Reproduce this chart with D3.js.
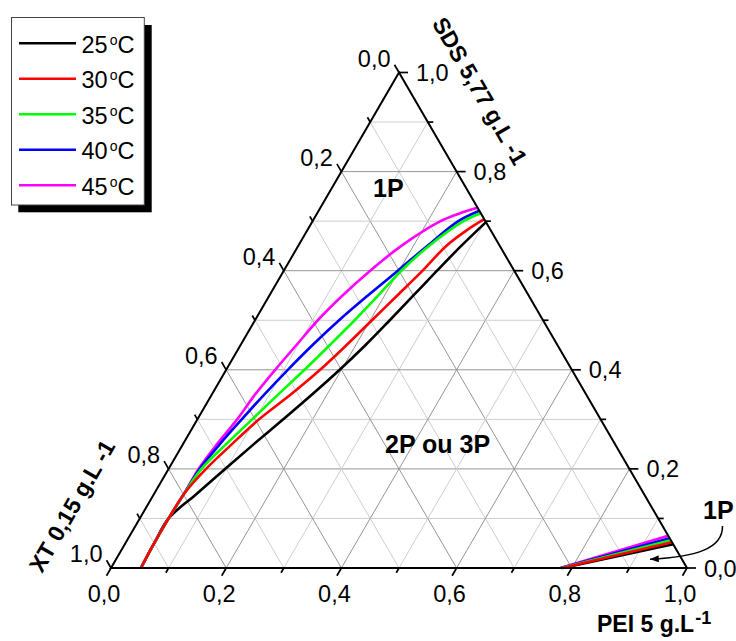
<!DOCTYPE html>
<html>
<head>
<meta charset="utf-8">
<script src="https://cdn.jsdelivr.net/npm/d3@7/dist/d3.min.js"></script>
<style>
html,body{margin:0;padding:0;background:#fff;}
svg{display:block;}
text{font-family:"Liberation Sans",Arial,Helvetica,sans-serif;fill:#000;}
</style>
</head>
<body>
<svg id="chart" width="736" height="641"></svg>
<script>
// ---------- DATA: ternary points given as [PEI, SDS]  (XT = 1 - PEI - SDS) ----------
const seriesNames  = ["25", "30", "35", "40", "45"];
const seriesColors = ["#000000", "#ff0000", "#00ff00", "#0000ff", "#ff00ff"];

// binodal curves (main branch)
const binodal25 = [[0.052,0],[0.050,0.05],[0.050,0.10],[0.074,0.15],[0.098,0.20],[0.123,0.25],[0.149,0.30],[0.174,0.35],[0.197,0.40],[0.217,0.45],[0.234,0.50],[0.250,0.55],[0.266,0.60],[0.283,0.65],[0.302,0.698]];
const binodal30 = [[0.052,0],[0.050,0.05],[0.050,0.10],[0.052,0.15],[0.065,0.20],[0.085,0.25],[0.107,0.30],[0.137,0.35],[0.163,0.40],[0.184,0.45],[0.203,0.50],[0.222,0.55],[0.241,0.60],[0.257,0.65],[0.277,0.682],[0.296,0.704]];
const binodal35 = [[0.052,0],[0.050,0.05],[0.050,0.10],[0.052,0.15],[0.057,0.20],[0.075,0.25],[0.095,0.30],[0.115,0.35],[0.136,0.40],[0.155,0.45],[0.173,0.50],[0.189,0.55],[0.204,0.60],[0.227,0.65],[0.262,0.70],[0.284,0.716]];
const binodal40 = [[0.052,0],[0.050,0.05],[0.050,0.10],[0.052,0.15],[0.054,0.20],[0.064,0.25],[0.077,0.30],[0.091,0.35],[0.107,0.40],[0.125,0.45],[0.146,0.50],[0.171,0.55],[0.198,0.60],[0.224,0.65],[0.253,0.70],[0.279,0.721]];
const binodal45 = [[0.052,0],[0.050,0.05],[0.050,0.10],[0.052,0.15],[0.052,0.20],[0.059,0.25],[0.069,0.30],[0.075,0.35],[0.085,0.40],[0.097,0.45],[0.109,0.50],[0.127,0.55],[0.150,0.60],[0.179,0.65],[0.222,0.70],[0.248,0.716],[0.273,0.727]];

// PEI-rich corner branch
const corner25 = [[0.784,0],[0.952,0.048]];
const corner30 = [[0.783,0],[0.948,0.052]];
const corner35 = [[0.782,0],[0.944,0.056]];
const corner40 = [[0.781,0],[0.940,0.060]];
const corner45 = [[0.780,0],[0.935,0.065]];

// axes
const majorTicks = [0, 0.2, 0.4, 0.6, 0.8, 1.0];
const minorTicks = [0.1, 0.3, 0.5, 0.7, 0.9];
const tickLabels = ["0,0", "0,2", "0,4", "0,6", "0,8", "1,0"];
const gridValues = [0.1, 0.2, 0.3, 0.4, 0.5, 0.6, 0.7, 0.8, 0.9];

// ---------- GEOMETRY ----------
const svg = d3.select("#chart");
const xs = d3.scaleLinear().domain([0, 1]).range([111, 687]);   // horizontal
const ys = d3.scaleLinear().domain([0, 1]).range([568, 72.5]);  // SDS fraction
const P = (pei, sds) => [xs(pei + sds / 2), ys(sds)];

const binodals = [binodal25, binodal30, binodal35, binodal40, binodal45];
const corners  = [corner25, corner30, corner35, corner40, corner45];

// ---------- GRID ----------
const grid = svg.append("g");
gridValues.forEach((v, i) => {
  const col = (i % 2 === 1) ? "#959595" : "#cdcdcd";
  const segs = [
    [P(0, v), P(1 - v, v)],          // constant SDS
    [P(v, 0), P(v, 1 - v)],          // constant PEI
    [P(1 - v, 0), P(0, 1 - v)]       // constant XT
  ];
  segs.forEach(s => grid.append("line")
    .attr("x1", s[0][0]).attr("y1", s[0][1]).attr("x2", s[1][0]).attr("y2", s[1][1])
    .attr("stroke", col).attr("stroke-width", 1));
});

// ---------- CURVES ----------
const line = d3.line()
  .x(d => P(d[0], d[1])[0])
  .y(d => P(d[0], d[1])[1])
  .curve(d3.curveCatmullRom.alpha(0.5));
const drawOrder = [0, 4, 3, 2, 1];
const curveG = svg.append("g");
drawOrder.forEach(i => {
  curveG.append("path").attr("d", line(corners[i])).attr("fill", "none")
    .attr("stroke", seriesColors[i]).attr("stroke-width", 2.6);
});
drawOrder.forEach(i => {
  curveG.append("path").attr("d", line(binodals[i])).attr("fill", "none")
    .attr("stroke", seriesColors[i]).attr("stroke-width", 2.6).attr("stroke-linejoin", "round");
});

// ---------- TRIANGLE FRAME ----------
const A = P(0, 0), B = P(1, 0), C = P(0, 1);
svg.append("path").attr("d", `M${A}L${B}L${C}Z`).attr("fill", "none")
  .attr("stroke", "#000").attr("stroke-width", 2).attr("stroke-linejoin", "miter");

// ---------- TICKS ----------
const c60 = 0.5, s60 = Math.sqrt(3) / 2;
const tickG = svg.append("g").attr("stroke", "#000").attr("stroke-width", 1.7);
function tick(p, dir, len) {
  tickG.append("line").attr("x1", p[0]).attr("y1", p[1])
    .attr("x2", p[0] + dir[0] * len).attr("y2", p[1] + dir[1] * len);
}
const dirPEI = [-c60, s60], dirSDS = [1, 0], dirXT = [-c60, -s60];
majorTicks.forEach(v => { tick(P(v, 0), dirPEI, 9); tick(P(1 - v, v), dirSDS, 9); tick(P(0, 1 - v), dirXT, 9); });
minorTicks.forEach(v => { tick(P(v, 0), dirPEI, 5.5); tick(P(1 - v, v), dirSDS, 5.5); tick(P(0, 1 - v), dirXT, 5.5); });

// ---------- TICK LABELS ----------
const lab = svg.append("g").attr("font-size", 23.5);
majorTicks.forEach((v, i) => {
  const pb = P(v, 0);
  lab.append("text").attr("x", pb[0] - 7).attr("y", 602).attr("text-anchor", "middle").text(tickLabels[i]);
  const pr = P(1 - v, v);
  lab.append("text").attr("x", pr[0] + 17).attr("y", pr[1] + 8.5).attr("text-anchor", "start").text(tickLabels[i]);
  const pl = P(0, 1 - v);
  lab.append("text").attr("x", pl[0] - 8.5).attr("y", pl[1] - 6).attr("text-anchor", "end").text(tickLabels[i]);
});

// ---------- AXIS TITLES ----------
svg.append("text").attr("transform", "translate(473,95) rotate(60)")
  .attr("text-anchor", "middle").attr("font-size", 23).attr("font-weight", "bold")
  .text("SDS 5,77 g.L -1");
svg.append("text").attr("transform", "translate(79,510) rotate(-60)")
  .attr("text-anchor", "middle").attr("font-size", 23).attr("font-weight", "bold")
  .text("XT 0,15 g.L -1");
const pei = svg.append("text").attr("x", 597).attr("y", 632).attr("font-size", 23).attr("font-weight", "bold");
pei.append("tspan").text("PEI 5 g.L");
pei.append("tspan").attr("dy", -8).attr("dx", 1).attr("font-size", 18).text("-1");

// ---------- REGION LABELS ----------
svg.append("text").attr("x", 373).attr("y", 197).attr("font-size", 25).attr("font-weight", "bold").text("1P");
svg.append("text").attr("x", 385).attr("y", 453).attr("font-size", 25).attr("font-weight", "bold").text("2P ou 3P");
svg.append("text").attr("x", 703).attr("y", 518.5).attr("font-size", 25).attr("font-weight", "bold").text("1P");

// arrow
svg.append("defs").append("marker").attr("id", "ah").attr("viewBox", "0 0 10 8")
  .attr("refX", 10).attr("refY", 4).attr("markerWidth", 10).attr("markerHeight", 7)
  .attr("markerUnits", "userSpaceOnUse").attr("orient", "auto")
  .append("path").attr("d", "M0,0L10,4L0,8Z").attr("fill", "#000");
svg.append("path").attr("d", "M722.5,526 C723,549 695,557 650,559.3")
  .attr("fill", "none").attr("stroke", "#000").attr("stroke-width", 1.5).attr("marker-end", "url(#ah)");

// ---------- LEGEND ----------
const lg = svg.append("g");
lg.append("rect").attr("x", 18.3).attr("y", 25).attr("width", 133.4).attr("height", 187.3).attr("fill", "#000");
lg.append("rect").attr("x", 11.5).attr("y", 17.5).attr("width", 132.8).attr("height", 187.5)
  .attr("fill", "#fff").attr("stroke", "#444").attr("stroke-width", 1);
seriesNames.forEach((n, i) => {
  const y = 43.3 + i * 35.5;
  lg.append("line").attr("x1", 19).attr("x2", 76).attr("y1", y).attr("y2", y)
    .attr("stroke", seriesColors[i]).attr("stroke-width", 2.6);
  const t = lg.append("text").attr("x", 81.5).attr("y", y + 9.5).attr("font-size", 23.5);
  t.append("tspan").text(n);
  t.append("tspan").attr("dy", -8).attr("dx", 2).attr("font-size", 14).text("o");
  t.append("tspan").attr("dy", 8).attr("font-size", 23.5).text("C");
});
</script>
</body>
</html>
